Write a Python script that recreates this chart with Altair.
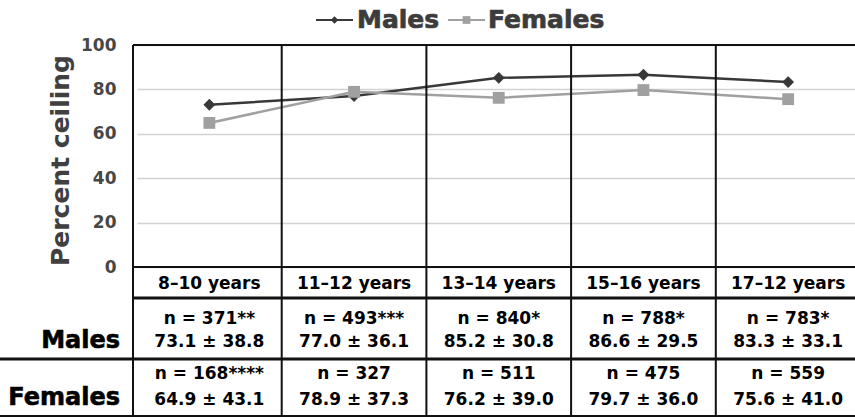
import altair as alt
import pandas as pd

# Age groups and per-sex summaries (percent ceiling, mean ± SD, sample size)
categories = ["8–10 years", "11–12 years", "13–14 years", "15–16 years", "17–12 years"]
series_names = ["Males", "Females"]

male_mean = [73.1, 77.0, 85.2, 86.6, 83.3]
male_sd = [38.8, 36.1, 30.8, 29.5, 33.1]
male_n = [371, 493, 840, 788, 783]
male_sig = ["**", "***", "*", "*", "*"]

female_mean = [64.9, 78.9, 76.2, 79.7, 75.6]
female_sd = [43.1, 37.3, 39.0, 36.0, 41.0]
female_n = [168, 327, 511, 475, 559]
female_sig = ["****", "", "", "", ""]

y_ticks = [0, 20, 40, 60, 80, 100]

FONT = "DejaVu Sans"
MALE_COLOR = "#383838"
FEMALE_COLOR = "#a0a0a0"
LINE_COLOR = "#111111"

W, H = 722, 372      # view: plot region plus the table underneath
PLOT_H = 222         # height of the 0-100 region

means = pd.DataFrame({
    "age": categories * 2,
    "sex": ["Males"] * len(categories) + ["Females"] * len(categories),
    "pct": male_mean + female_mean,
})

table = pd.DataFrame({
    "age": categories,
    "m_n": [f"n = {n}{s}" for n, s in zip(male_n, male_sig)],
    "m_v": [f"{m:.1f} ± {sd:.1f}" for m, sd in zip(male_mean, male_sd)],
    "f_n": [f"n = {n}{s}" for n, s in zip(female_n, female_sig)],
    "f_v": [f"{m:.1f} ± {sd:.1f}" for m, sd in zip(female_mean, female_sd)],
})

x_scale = alt.Scale(type="band", domain=categories, range=[4, 727.5],
                    paddingInner=0, paddingOuter=0)
color_scale = alt.Scale(domain=series_names, range=[MALE_COLOR, FEMALE_COLOR])


def xcat(pos=0.5):
    return alt.X("age:N", scale=x_scale, bandPosition=pos, axis=None)


y_enc = alt.Y(
    "pct:Q",
    scale=alt.Scale(domain=[0, 100], range=[PLOT_H, 0], nice=False, zero=False),
    axis=alt.Axis(
        values=y_ticks, grid=True, gridColor="#d2d2d2", gridWidth=1.5,
        domain=False, ticks=False, labelFlush=False,
        labelFont=FONT, labelFontWeight="bold", labelFontSize=17,
        labelColor="#474747", labelPadding=17,
        title="Percent ceiling", titleFont=FONT, titleFontWeight="bold",
        titleFontSize=25, titleColor="#404040", titleAngle=-90,
        titleX=-65, titleY=115, titleAlign="center", titleBaseline="alphabetic",
    ),
)

lines = alt.Chart(means).mark_line(strokeWidth=2.5).encode(
    x=xcat(), y=y_enc,
    color=alt.Color("sex:N", scale=color_scale, legend=None),
    detail="sex:N",
)

points = alt.Chart(means).mark_point(filled=True, opacity=1, size=140).encode(
    x=xcat(), y="pct:Q",
    color=alt.Color("sex:N", scale=color_scale, legend=None),
    shape=alt.Shape("sex:N", scale=alt.Scale(domain=series_names,
                                             range=["diamond", "square"]), legend=None),
)


def hline(y, x0=0, width=2):
    return alt.Chart(pd.DataFrame({"k": [0]})).mark_rule(
        color=LINE_COLOR, strokeWidth=width).encode(
        x=alt.value(x0), x2=alt.value(W + 10), y=alt.value(y))


# column separators and frame
col_rules = alt.Chart(pd.DataFrame({"age": categories[1:]})).mark_rule(
    color=LINE_COLOR, strokeWidth=2).encode(
    x=xcat(0), y=alt.value(0), y2=alt.value(H))
left_border = alt.Chart(pd.DataFrame({"k": [0]})).mark_rule(
    color=LINE_COLOR, strokeWidth=2).encode(
    x=alt.value(0), y=alt.value(0), y2=alt.value(H))

frame = [
    hline(0), hline(PLOT_H), hline(253, width=3),
    hline(314, x0=-133, width=3), hline(H - 1, x0=-133, width=2),
]


def table_text(field, y):
    return alt.Chart(table).mark_text(
        font=FONT, fontWeight="bold", fontSize=17, color="#000000",
        baseline="alphabetic", align="center").encode(
        x=xcat(), y=alt.value(y), text=f"{field}:N")


cat_labels = alt.Chart(pd.DataFrame({"age": categories})).mark_text(
    font=FONT, fontWeight="bold", fontSize=17, color="#000000",
    baseline="alphabetic", align="center").encode(
    x=xcat(), y=alt.value(244), text="age:N")

cells = [
    table_text("m_n", 279), table_text("m_v", 302),
    table_text("f_n", 334), table_text("f_v", 359.5),
]

row_labels = [
    alt.Chart(pd.DataFrame({"sex": [name]})).mark_text(
        font=FONT, fontWeight="bold", fontSize=24, color="#000000",
        stroke="#000000", strokeWidth=0.6,
        baseline="alphabetic", align="right").encode(
        x=alt.value(-13), y=alt.value(yy), text="sex:N")
    for name, yy in zip(series_names, [303, 360])
]

# legend drawn above the plot
legend = []
for name, color, shape, x0, x1, xt in [
    ("Males", MALE_COLOR, "diamond", 183, 220, 224),
    ("Females", FEMALE_COLOR, "square", 315, 352, 355),
]:
    d = pd.DataFrame({"sex": [name]})
    legend.append(alt.Chart(d).mark_rule(color=color, strokeWidth=2).encode(
        x=alt.value(x0), x2=alt.value(x1), y=alt.value(-25)))
    legend.append(alt.Chart(d).mark_point(shape=shape, filled=True, opacity=1,
                                          size=60, color=color).encode(
        x=alt.value((x0 + x1) / 2), y=alt.value(-25)))
    legend.append(alt.Chart(d).mark_text(
        font=FONT, fontWeight="bold", fontSize=25, color="#3c3c3c",
        stroke="#3c3c3c", strokeWidth=0.7,
        align="left", baseline="alphabetic").encode(
        x=alt.value(xt), y=alt.value(-17), text="sex:N"))

chart = alt.layer(
    lines, col_rules, left_border, *frame, points, cat_labels, *cells,
    *row_labels, *legend,
).properties(
    width=W, height=H,
    autosize=alt.AutoSizeParams(type="none"),
    padding={"left": 133, "top": 45, "right": 0, "bottom": 2},
    background="white",
).configure_view(stroke=None)

chart.save("out.html", embed_options={"renderer": "svg", "actions": False})
